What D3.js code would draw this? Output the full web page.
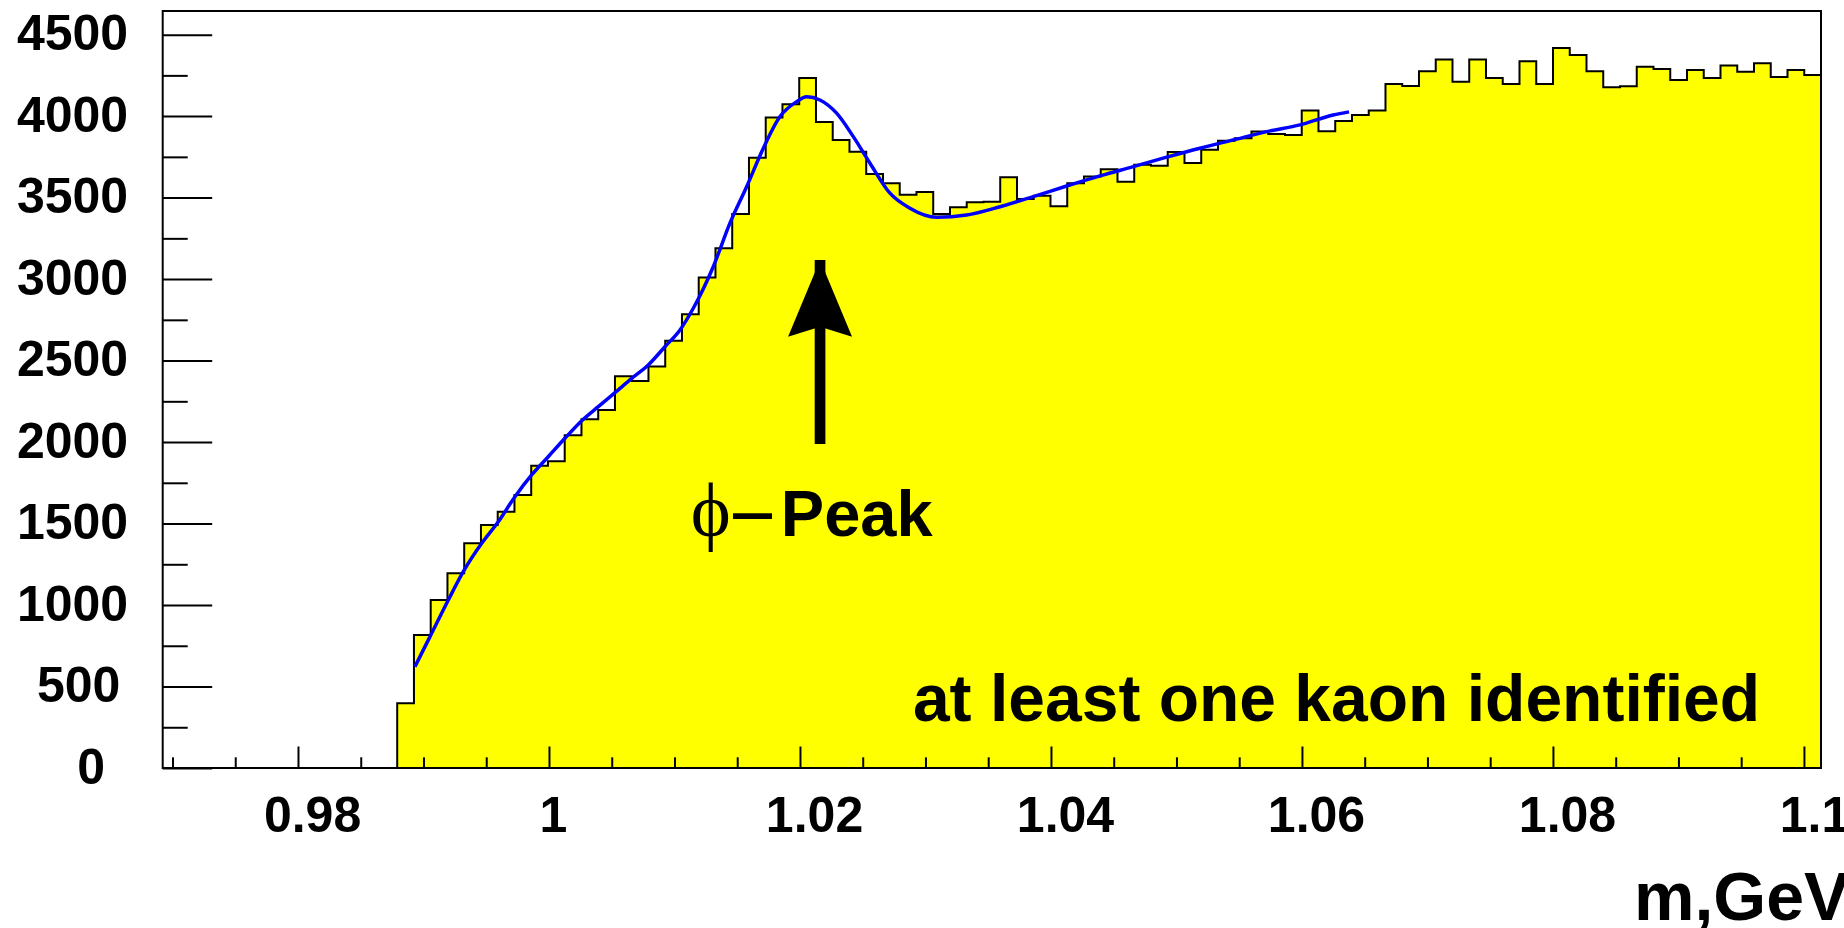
<!DOCTYPE html>
<html><head><meta charset="utf-8">
<script src="https://cdn.jsdelivr.net/npm/d3@7"></script>
<style>body{margin:0;background:#fff}svg{display:block}</style>
</head><body>
<svg id="c" width="1844" height="928"></svg>
<script>
// ---------- data ----------
const xRange = [0.96922, 1.10136];     // histogram / axis range (m, GeV)
const yRange = [0, 4645];
const nBins = 99;
const counts = [
  0,0,0,0,0,0,0,0,0,0,0,0,0,0,
  397,816,1031,1195,1379,1491,1573,1675,1855,1882,
  2042,2140,2197,2404,2375,2463,2622,2784,3009,3189,
  3400,3745,3991,4073,4234,3964,3854,3782,3645,3588,
  3518,3535,3400,3441,3471,3475,3625,3492,3512,3447,
  3588,3629,3674,3598,3702,3696,3780,3713,3794,3849,
  3864,3905,3891,3884,4034,3907,3970,4007,4034,4197,
  4185,4275,4347,4211,4347,4234,4197,4337,4197,4418,
  4375,4275,4177,4183,4303,4289,4222,4283,4234,4310,
  4273,4324,4240,4283,4253
];
const fitX = [0.98932,0.99052,0.99198,0.99317,0.99464,0.99596,0.99729,0.99862,0.99994,1.00127,
  1.00261,1.00393,1.00526,1.00659,1.00791,1.00924,1.01044,1.01150,1.01309,1.01442,
  1.01575,1.01708,1.01841,1.01974,1.02053,1.02159,1.02292,1.02425,1.02558,1.02717,
  1.02876,1.03089,1.03328,1.03594,1.03859,1.04125,1.04390,1.04656,1.04922,1.05187,
  1.05453,1.05719,1.05984,1.06249,1.06375];
const fitY = [622,806,1031,1205,1379,1511,1665,1798,1910,2023,
  2131,2217,2303,2391,2473,2585,2688,2821,3076,3343,
  3567,3803,3997,4089,4119,4099,4018,3874,3711,3527,
  3435,3379,3393,3444,3506,3571,3633,3690,3748,3803,
  3854,3905,3946,4007,4026];
const xMajorTicks = [0.98,1.00,1.02,1.04,1.06,1.08,1.10];
const xTickLabels = ["0.98","1","1.02","1.04","1.06","1.08","1.1"];
const xMinorStep = 0.005;
const yMajorTicks = [0,500,1000,1500,2000,2500,3000,3500,4000,4500];
const yTickLabels = ["0","500","1000","1500","2000","2500","3000","3500","4000","4500"];
const yMinorStep = 250;
const arrowX = 1.0216, arrowFrom = 1988, arrowTo = 3117;
const peakLabel = {x:1.0113, y:1424, phi:"\u03D5", dash:"\u2212", text:"Peak"};
const noteLabel = {x:1.0290, y:290, text:"at least one kaon identified"};
const xTitle = "m,GeV";

// ---------- layout ----------
const L = 162.7, R = 1821, T = 11, B = 768;
const svg = d3.select("#c");
svg.append("rect").attr("width",1844).attr("height",928).attr("fill","#fff");
const X = d3.scaleLinear().domain(xRange).range([L,R]);
const Y = d3.scaleLinear().domain(yRange).range([B,T]);
const SANS = "'Liberation Sans', Arial, Helvetica, sans-serif";
const SERIF = "'Liberation Serif','Times New Roman',serif";

// histogram
const bw = (xRange[1]-xRange[0])/nBins;
const edges = d3.range(nBins+1).map(i => xRange[0] + i*bw);
let d = `M${X(edges[0])},${Y(0)}`;
counts.forEach((c,i) => { d += `V${Y(c)}H${X(edges[i+1])}`; });
d += `V${Y(0)}`;
svg.append("path").attr("d", d + "Z").attr("fill","#ffff00").attr("stroke","none");
svg.append("path").attr("d", d).attr("fill","none").attr("stroke","#000")
   .attr("stroke-width",2).attr("stroke-linejoin","miter");

// fit curve
const fit = fitX.map((x,i)=>[x,fitY[i]]);
svg.append("path").datum(fit)
  .attr("d", d3.line().x(p=>X(p[0])).y(p=>Y(p[1])).curve(d3.curveMonotoneX))
  .attr("fill","none").attr("stroke","#0000ff").attr("stroke-width",3.5);

// arrow
const ax = X(arrowX), ay1 = Y(arrowFrom), ay2 = Y(arrowTo);
svg.append("line").attr("x1",ax).attr("x2",ax).attr("y1",ay1).attr("y2",ay2)
  .attr("stroke","#000").attr("stroke-width",10.7);
svg.append("path")
  .attr("d",`M${ax},${ay2}L${ax-32},${ay2+76.7}L${ax},${ay2+66.7}L${ax+32},${ay2+76.7}Z`)
  .attr("fill","#000");

// annotation: phi-Peak
const px0 = X(peakLabel.x), py0 = Y(peakLabel.y);
svg.append("text").attr("x",px0).attr("y",py0).attr("fill","#000")
  .attr("font-family",SERIF).attr("font-size",76).text(peakLabel.phi);
svg.append("text").attr("x",px0+38).attr("y",py0+8).attr("fill","#000")
  .attr("font-family",SERIF).attr("font-weight","bold").attr("font-size",84).text(peakLabel.dash);
svg.append("text").attr("x",px0+90).attr("y",py0).attr("fill","#000")
  .attr("font-family",SANS).attr("font-weight","bold").attr("font-size",65).text(peakLabel.text);

// annotation: note
svg.append("text").attr("x",X(noteLabel.x)).attr("y",Y(noteLabel.y))
  .attr("font-family",SANS).attr("font-weight","bold").attr("font-size",66).text(noteLabel.text);

// axes
const yMinor = d3.range(0, yRange[1], yMinorStep).filter(v => v%500 !== 0);
const gy = svg.append("g").attr("transform",`translate(${L},0)`);
gy.call(d3.axisLeft(Y).tickValues(yMinor).tickFormat("").tickSizeInner(-25).tickSizeOuter(0));
gy.call(g=>g.select(".domain").remove());
const gy2 = svg.append("g").attr("transform",`translate(${L},0)`);
gy2.call(d3.axisLeft(Y).tickValues(yMajorTicks).tickFormat((v,i)=>yTickLabels[i]).tickSizeInner(-49.5).tickSizeOuter(0));
gy2.select(".domain").remove();
[gy,gy2].forEach(g=>g.selectAll(".tick line").attr("stroke","#000").attr("stroke-width",2));
gy2.selectAll(".tick text")
  .attr("font-family",SANS).attr("font-weight","bold").attr("font-size",50).attr("fill","#000")
  .attr("text-anchor","start").attr("dy",null).attr("y",15)
  .each(function(){ const w=this.getComputedTextLength(); d3.select(this).attr("x", 97.3-0.723*w - L); });

const xMinor = d3.range(0.97, xRange[1], xMinorStep).filter(v => Math.abs(v/0.02 - Math.round(v/0.02))>1e-6);
const gx = svg.append("g").attr("transform",`translate(0,${B})`);
gx.call(d3.axisBottom(X).tickValues(xMinor).tickFormat("").tickSizeInner(-10.7).tickSizeOuter(0));
gx.select(".domain").remove();
const gx2 = svg.append("g").attr("transform",`translate(0,${B})`);
gx2.call(d3.axisBottom(X).tickValues(xMajorTicks).tickFormat((v,i)=>xTickLabels[i]).tickSizeInner(-21.5).tickSizeOuter(0));
gx2.select(".domain").remove();
[gx,gx2].forEach(g=>g.selectAll(".tick line").attr("stroke","#000").attr("stroke-width",2));
gx2.selectAll(".tick text")
  .attr("font-family",SANS).attr("font-weight","bold").attr("font-size",50).attr("fill","#000")
  .attr("text-anchor","start").attr("dy",null).attr("y",63.5)
  .each(function(){ const w=this.getComputedTextLength(); d3.select(this).attr("x", -0.711*w/2); });

// frame
svg.append("rect").attr("x",L).attr("y",T).attr("width",R-L).attr("height",B-T)
  .attr("fill","none").attr("stroke","#000").attr("stroke-width",2);

// x title
svg.append("text").attr("x",1634).attr("y",920).attr("font-family",SANS).attr("font-weight","bold")
  .attr("font-size",68).attr("fill","#000").text(xTitle);
</script>
</body></html>
